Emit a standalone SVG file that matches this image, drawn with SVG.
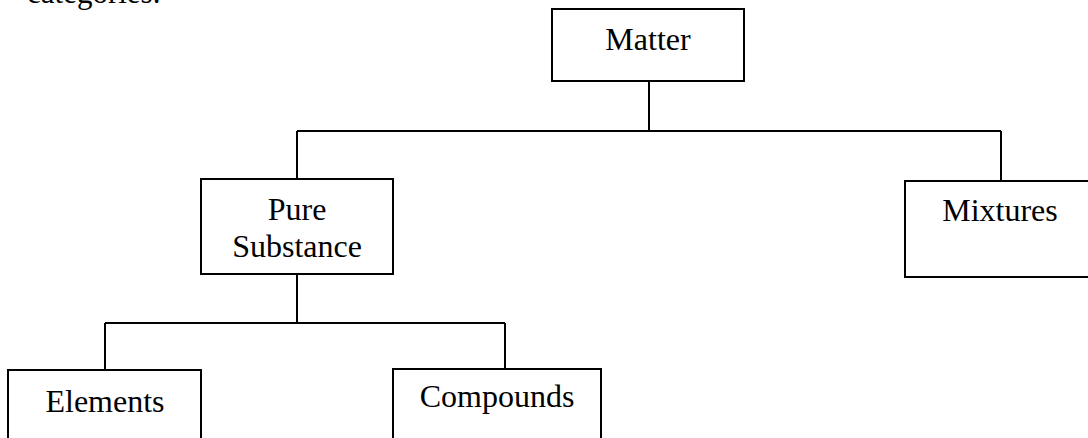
<svg xmlns="http://www.w3.org/2000/svg" width="1088" height="438" viewBox="0 0 1088 438">
<style>
.box{fill:#fff;stroke:#000;stroke-width:2}
.ln{stroke:#000;stroke-width:2;fill:none}
text{font-family:"Liberation Serif","Times New Roman",serif;font-size:32px;fill:#000}
.c{text-anchor:middle}
</style>
<rect width="1088" height="438" fill="#fff"/>
<text x="27" y="3" style="font-size:31px">categories.</text>
<g id="connectors">
<path class="ln" d="M649 81V131M297 131H1001M297 131V179M1001 131V181M297 274V323M105 323H505M105 323V370M505 323V369"/>
</g>
<g id="matter"><rect class="box" x="552" y="9" width="192" height="72"/><text class="c" x="648" y="50">Matter</text></g>
<g id="pure"><rect class="box" x="201" y="179" width="192" height="95"/><text class="c" x="297" y="220">Pure</text><text class="c" x="297" y="257">Substance</text></g>
<g id="mixtures"><rect class="box" x="905" y="181" width="200" height="96"/><text class="c" x="1000" y="221">Mixtures</text></g>
<g id="elements"><rect class="box" x="8" y="370" width="193" height="80"/><text class="c" x="105" y="412">Elements</text></g>
<g id="compounds"><rect class="box" x="393" y="369" width="208" height="80"/><text class="c" x="497" y="407">Compounds</text></g>
</svg>
